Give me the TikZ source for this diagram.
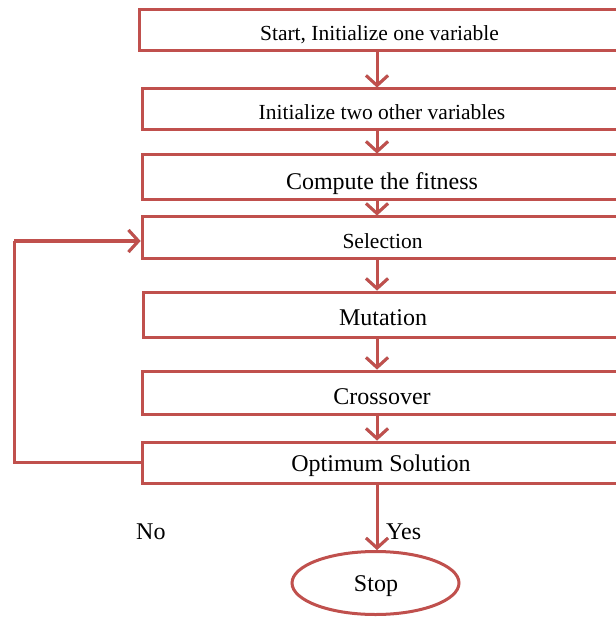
\documentclass[tikz,border=0pt]{standalone}
\usepackage{fontspec}
\setmainfont{Liberation Serif}
\usetikzlibrary{arrows.meta,shapes.geometric}
\definecolor{boxred}{RGB}{192,80,77}
\begin{document}
\begin{tikzpicture}[x=1pt,y=-1pt,
  box/.style={draw=boxred, line width=3pt, fill=white, inner sep=0pt},
  lbl/.style={anchor=base, inner sep=0pt, font=\fontsize{21.5}{24}\selectfont},
  lblb/.style={anchor=base, inner sep=0pt, font=\fontsize{24}{26}\selectfont},
  flow/.style={draw=boxred, line width=3pt, -{Straight Barb[length=10pt,width=22pt,line width=3pt]}},
  flowshadow/.style={draw=gray, opacity=0.6, line width=3pt, -{Straight Barb[length=10pt,width=22pt,line width=3pt]}, shift={(1.5,2)}},
  link/.style={draw=boxred, line width=3pt}
]
\useasboundingbox (0,0) rectangle (615,617);
\fill[white] (0,0) rectangle (615,617);
% boxes
\node[box, minimum width=483, minimum height=41] (b1) at (380.5,30.5) {};
\node[box, minimum width=480, minimum height=41] (b2) at (382,109.5) {};
\node[box, minimum width=480, minimum height=45] (b3) at (382,177.5) {};
\node[box, minimum width=480, minimum height=41] (b4) at (382,237.5) {};
\node[box, minimum width=479, minimum height=45] (b5) at (382.5,314.5) {};
\node[box, minimum width=480, minimum height=43] (b6) at (382,392.5) {};
\node[box, minimum width=480, minimum height=41] (b7) at (382,462.5) {};
\node[draw=boxred, line width=3pt, fill=white, ellipse, inner sep=0pt, minimum width=167, minimum height=63] (stop) at (375.5,583) {};
% texts
\node[lbl] (t1) at (379.5,40.5) {Start, Initialize one variable};
\node[lbl] (t2) at (382,120) {Initialize two other variables};
\node[lblb] (t3) at (382,190) {Compute the fitness};
\node[lbl] (t4) at (382.5,248) {Selection};
\node[lblb] (t5) at (383,325.5) {Mutation};
\node[lblb] (t6) at (382,404) {Crossover};
\node[lblb] (t7) at (381,471.5) {Optimum Solution};
\node[lblb] (ts) at (376,591) {Stop};
\node[lblb, anchor=base west] (no) at (136,539) {No};
\node[lblb, anchor=base west] (yes) at (386,539) {Yes};
% connector x position
\coordinate (ax) at (377,0);
\coordinate (lp) at (14,241);
% shadows
\foreach \a/\b in {b1/b2,b2/b3,b3/b4,b4/b5,b5/b6,b6/b7,b7/stop}{
  \draw[flowshadow] (\a.south -| ax) -- (\b.north -| ax);
}
\draw[flowshadow] (lp) -- (lp -| b4.west);
% arrows
\foreach \a/\b in {b1/b2,b2/b3,b3/b4,b4/b5,b5/b6,b6/b7,b7/stop}{
  \draw[flow] (\a.south -| ax) -- (\b.north -| ax);
}
\draw[link] (b7.west) -| (lp);
\draw[flow] (lp) -- (lp -| b4.west);
\end{tikzpicture}
\end{document}
